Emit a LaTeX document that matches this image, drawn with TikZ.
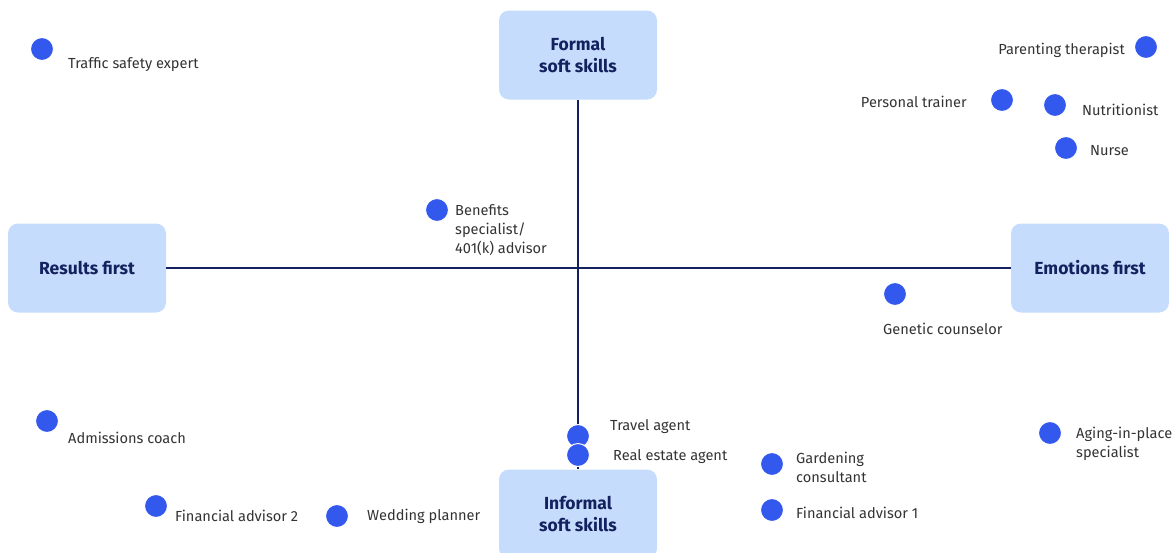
\documentclass[tikz,border=0pt]{standalone}
\usepackage{fontspec}
\setmainfont{Fira Sans}
\definecolor{boxfill}{HTML}{C5DCFC}
\definecolor{navy}{HTML}{13215E}
\definecolor{dotblue}{HTML}{3358EE}
\definecolor{labelgray}{HTML}{333333}
\tikzset{
  catbox/.style={rectangle, rounded corners=10pt, fill=boxfill, minimum width=158pt, minimum height=89pt, align=center, text=navy, font=\fontsize{17.5}{22}\selectfont\bfseries},
  axis/.style={draw=navy, line width=1.3pt},
  dot/.style={circle, fill=dotblue, draw=white, line width=1pt, minimum size=23pt, inner sep=0pt},
  lbl/.style={text=labelgray, font=\fontsize{14.6}{19}\selectfont, inner sep=0pt, align=left},
}
\begin{document}
\begin{tikzpicture}[x=1pt,y=-1pt]
\useasboundingbox (0,0) rectangle (1175,552);
\node[catbox] (formal) at (578,55) {Formal\\soft skills};
\node[catbox] (results) at (87,268) {Results first};
\node[catbox] (emotions) at (1090,268) {Emotions first};
\node[catbox] (informal) at (578,514) {Informal\\soft skills};
\draw[axis] (formal.south) -- (informal.north);
\draw[axis] (results.east) -- (emotions.west);

\node[dot] (d1) at (42,49) {};
\node[lbl, anchor=west] (l1) at (68,65) {Traffic safety expert};
\node[dot] (d2) at (1146,47) {};
\node[lbl, anchor=east] (l2) at (1125,50) {Parenting therapist};
\node[dot] (d3) at (1002,100) {};
\node[lbl, anchor=east] (l3) at (967,102) {Personal trainer};
\node[dot] (d4) at (1055,105) {};
\node[lbl, anchor=west] (l4) at (1082,110) {Nutritionist};
\node[dot] (d5) at (1066,148) {};
\node[lbl, anchor=west] (l5) at (1090,151) {Nurse};
\node[dot] (d6) at (437,210) {};
\node[lbl, anchor=north west] (l6) at (455,204) {Benefits\\specialist/\\401(k) advisor};
\node[dot] (d7) at (895,294) {};
\node[lbl, anchor=west] (l7) at (883,329) {Genetic counselor};
\node[dot] (d8) at (47,421) {};
\node[lbl, anchor=west] (l8) at (68,438) {Admissions coach};
\node[dot] (d9) at (578,436) {};
\node[lbl, anchor=west] (l9) at (610,427) {Travel agent};
\node[dot] (d10) at (578,455) {};
\node[lbl, anchor=west] (l10) at (613,457) {Real estate agent};
\node[dot] (d11) at (772,464) {};
\node[lbl, anchor=north west] (l11) at (796,452) {Gardening\\consultant};
\node[dot] (d12) at (1050,433) {};
\node[lbl, anchor=north west] (l12) at (1076,427) {Aging-in-place\\specialist};
\node[dot] (d13) at (156,506) {};
\node[lbl, anchor=west] (l13) at (175,516) {Financial advisor 2};
\node[dot] (d14) at (337,516) {};
\node[lbl, anchor=west] (l14) at (367,516) {Wedding planner};
\node[dot] (d15) at (772,510) {};
\node[lbl, anchor=west] (l15) at (796,513) {Financial advisor 1};
\end{tikzpicture}
\end{document}
